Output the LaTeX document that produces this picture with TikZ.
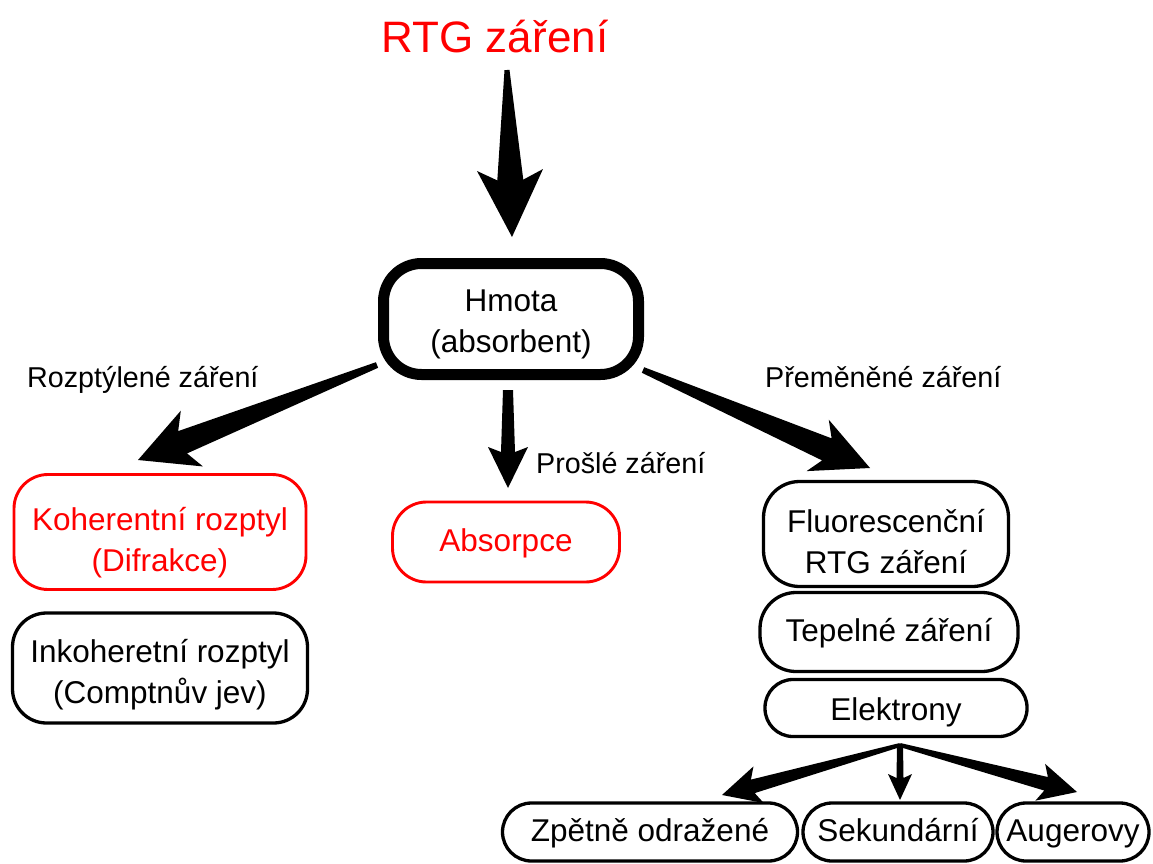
\documentclass[tikz,border=0pt]{standalone}
\usepackage{fontspec}
\setmainfont{Liberation Sans}
\usetikzlibrary{calc}
\definecolor{rtgred}{RGB}{255,0,0}
\newcommand\bxfont{\fontsize{31.5}{41}\selectfont}
\newcommand\lblfont{\fontsize{28.7}{32}\selectfont}
\newcommand\ttlfont{\fontsize{44}{50}\selectfont}
\newcommand\topstrut[1]{\rule{0pt}{#1}}
\tikzset{
  box/.style={draw=black, line width=3.3pt, rounded corners=#1, align=center, font=\bxfont, inner sep=0pt},
  box/.default=34pt,
  redbox/.style={box=#1, draw=rtgred, text=rtgred, line width=2.9pt},
  redbox/.default=34pt,
  oneline/.style={text height=24pt, text depth=5pt},
  lbl/.style={font=\lblfont, anchor=base west, inner sep=0pt},
  arrowfill/.style={fill=black},
}
\newcommand\fatarrow[7]{%
  \coordinate (fa-n) at ($(#2)!#7!(#1)$);
  \coordinate (fa-h) at ($(#2)!#6!(#1)$);
  \fill[arrowfill] ($(#1)!#3!90:(#2)$) -- ($(fa-n)!#4!90:(#2)$) -- ($(fa-h)!#5!90:(#2)$) -- (#2)
    -- ($(fa-h)!#5!-90:(#2)$) -- ($(fa-n)!#4!-90:(#2)$) -- ($(#1)!#3!-90:(#2)$) -- cycle;
}
\begin{document}
\begin{tikzpicture}[x=1pt, y=-1pt]
\useasboundingbox (0,0) rectangle (1153,864);
% title
\node[font=\ttlfont, text=rtgred, anchor=base, inner sep=0pt] (title) at (495,53) {RTG záření};
% boxes
\node[box=38pt, line width=11pt, minimum width=255pt, minimum height=111pt] (hmota) at (511,319) {\topstrut{32pt}Hmota\\(absorbent)};
\node[redbox=34pt, minimum width=292pt, minimum height=115pt] (kohe) at (160,532) {\topstrut{44pt}Koherentní rozptyl\\(Difrakce)};
\node[box=34pt, minimum width=295pt, minimum height=110pt] (inkoh) at (160,668) {\topstrut{36pt}Inkoheretní rozptyl\\(Comptnův jev)};
\node[redbox=34pt, oneline, minimum width=227pt, minimum height=80pt] (absorp) at (506,542) {Absorpce};
\node[box=36pt, minimum width=245pt, minimum height=105pt] (fluor) at (886,534) {\topstrut{38pt}Fluorescenční\\RTG záření};
\node[box=36pt, oneline, minimum width=258pt, minimum height=79pt] (tepel) at (889,632) {Tepelné záření};
\node[box=28pt, text height=27pt, text depth=3pt, minimum width=262pt, minimum height=57pt] (elekt) at (896,708) {Elektrony};
\node[box=29pt, oneline, minimum width=295pt, minimum height=58pt] (zpet) at (650,832) {Zpětně odražené};
\node[box=29pt, oneline, minimum width=190pt, minimum height=58pt] (sekun) at (898,832) {Sekundární};
\node[box=29pt, oneline, minimum width=152pt, minimum height=58pt] (auger) at (1073,832) {Augerovy};
% labels
\node[lbl] (lroz) at (27,387) {Rozptýlené záření};
\node[lbl] (lpre) at (765,387) {Přeměněné záření};
\node[lbl] (lpro) at (536,473) {Prošlé záření};
% arrow end coordinates
\coordinate (a0s) at (507,70);   \coordinate (a0e) at (512,237);
\coordinate (a1s) at (377,365);  \coordinate (a1e) at (138,460);
\coordinate (a2s) at (508,390);  \coordinate (a2e) at (508,488);
\coordinate (a3s) at (643,370);  \coordinate (a3e) at (870,468);
\coordinate (b0) at (900,745);
\coordinate (b1e) at (722,795);
\coordinate (b2e) at (900,800);
\coordinate (b3e) at (1077,792);
% fat arrows
\fatarrow{a0s}{a0e}{2.5pt}{13pt}{33pt}{67pt}{57pt}
\fatarrow{a1s}{a1e}{3pt}{12pt}{30pt}{58pt}{48pt}
\fatarrow{a2s}{a2e}{5pt}{7pt}{20pt}{41pt}{36pt}
\fatarrow{a3s}{a3e}{3pt}{12pt}{28pt}{57pt}{47pt}
\fatarrow{b0}{b1e}{2pt}{7pt}{19pt}{38pt}{32pt}
\fatarrow{b0}{b2e}{3pt}{3.5pt}{12pt}{26pt}{22pt}
\fatarrow{b0}{b3e}{2pt}{7pt}{19pt}{38pt}{32pt}
\end{tikzpicture}
\end{document}
